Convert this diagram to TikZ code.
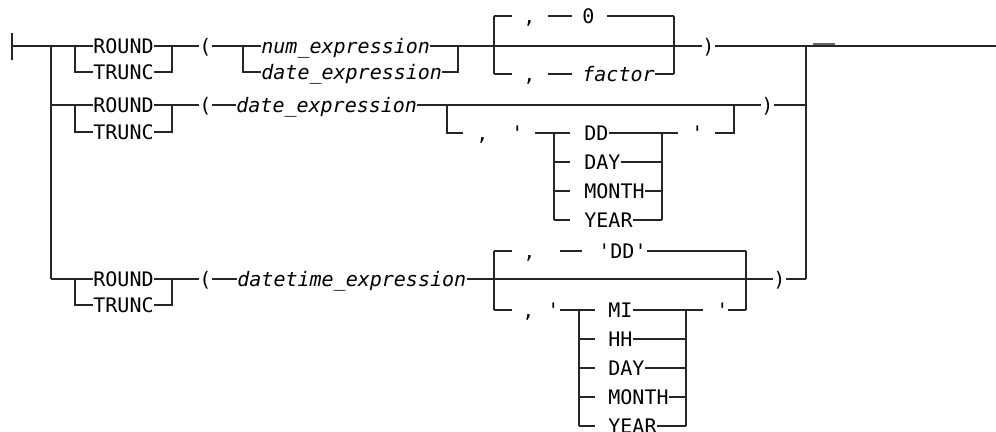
\documentclass[tikz,border=0pt]{standalone}
\usepackage{fontspec}
\setmonofont{DejaVu Sans Mono}
\usepackage{tikz}

\tikzset{
  rail/.style={line width=0.7pt, draw=black!85},
  kw/.style={font=\ttfamily, inner sep=0pt, text height=7.3pt, text depth=0pt, anchor=west},
  var/.style={kw, font=\ttfamily\itshape},
}

\begin{document}
\begin{tikzpicture}[x=0.5pt, y=-0.5pt]
    \useasboundingbox (0,0) rectangle (996,432);

    % ================= RAILS =================
    \coordinate (startT) at (12,33);
    \coordinate (startB) at (12,60);
    \coordinate (start) at (12,46);
    \coordinate (lr1) at (51,46);
    \coordinate (lr2) at (51,105);
    \coordinate (lr3) at (51,279);
    \coordinate (rr1) at (806,46);
    \coordinate (rr2) at (806,105);
    \coordinate (rr3) at (806,279);
    \coordinate (exit) at (996,46);
    \coordinate (mk1) at (813,44);
    \coordinate (mk2) at (835,44);

    \draw[rail] (startT) -- (startB);
    \draw[rail] (lr1) -- (lr3);
    \draw[rail] (rr1) -- (rr3);
    \draw[rail] (start) -- (lr1) (rr1) -- (exit);
    \draw[rail, line width=1.2pt, draw=black!60] (mk1) -- (mk2);

    % ROUND / TRUNC choices
    \foreach \y/\yy [count=\i] in {46/72, 105/132, 279/305} {
      \coordinate (rb\i) at (75,\y);
      \coordinate (rbd\i) at (75,\yy);
      \coordinate (rj\i) at (172,\y);
      \coordinate (rjd\i) at (172,\yy);
      \node[kw] (round\i) at (93,\y) {ROUND};
      \node[kw] (trunc\i) at (93,\yy) {TRUNC};
      \node[kw] (lp\i) at (199,\y) {(};
      \draw[rail] (lr\i) -- (rb\i) -- (round\i.west) (round\i.east) -- (rj\i) -- (lp\i.west);
      \draw[rail] (rb\i) -- (rbd\i) -- (trunc\i.west) (trunc\i.east) -- (rjd\i) -- (rj\i);
    }

    % ================= ROW 1 =================
    \coordinate (eb1) at (243,46);
    \coordinate (ebd1) at (243,72);
    \coordinate (ej1) at (458,46);
    \coordinate (ejd1) at (458,72);
    \node[var] (num1) at (261,46) {num\_expression};
    \node[var] (date1) at (261,72) {date\_expression};
    \draw[rail] (lp1.east) -- (eb1) -- (num1.west) (num1.east) -- (ej1);
    \draw[rail] (eb1) -- (ebd1) -- (date1.west) (date1.east) -- (ejd1) -- (ej1);

    \coordinate (ob1) at (494,46);
    \coordinate (obu1) at (494,16);
    \coordinate (obd1) at (494,74);
    \coordinate (oj1) at (674,46);
    \coordinate (oju1) at (674,16);
    \coordinate (ojd1) at (674,74);
    \coordinate (dz1) at (512,16);
    \coordinate (dz2) at (548,16);
    \coordinate (dz3) at (572,16);
    \coordinate (dz4) at (607,16);
    \coordinate (df1) at (512,74);
    \coordinate (df2) at (548,74);
    \coordinate (df3) at (572,74);
    \node[kw] (cm1) at (523,16) {,};
    \node[kw] (zero) at (582,16) {0};
    \node[kw] (cm2) at (523,74) {,};
    \node[var] (factor) at (582,74) {factor};
    \node[kw] (rp1) at (702,46) {)};
    \draw[rail] (obu1) -- (obd1) (oju1) -- (ojd1);
    \draw[rail] (obu1) -- (dz1) (dz2) -- (dz3) (dz4) -- (oju1);
    \draw[rail] (obd1) -- (df1) (df2) -- (df3) (factor.east) -- (ojd1);
    \draw[rail] (ej1) -- (oj1) -- (rp1.west) (rp1.east) -- (rr1);

    % ================= ROW 2 =================
    \coordinate (ob2) at (447,105);
    \coordinate (obd2) at (447,133);
    \coordinate (oj2) at (734,105);
    \coordinate (ojd2) at (734,133);
    \coordinate (da1) at (463,133);
    \coordinate (da2) at (535,133);
    \coordinate (da3) at (678,133);
    \coordinate (da4) at (715,133);
    \node[var] (date2) at (236,105) {date\_expression};
    \node[kw] (cm3) at (476,133) {,};
    \node[kw] (qa) at (511,133) {\textquotesingle};
    \node[kw] (qb) at (691,133) {\textquotesingle};
    \node[kw] (rp2) at (761,105) {)};
    \draw[rail] (lp2.east) -- (date2.west) (date2.east) -- (ob2) -- (oj2) -- (rp2.west) (rp2.east) -- (rr2);

    \foreach \w [count=\i] in {DD,DAY,MONTH,YEAR} {
      \coordinate (ia\i) at (554,{104+29*\i});
      \coordinate (ta\i) at (570,{104+29*\i});
      \coordinate (sa\i) at (662,{104+29*\i});
      \node[kw] (wa\i) at (584,{104+29*\i}) {\w};
      \draw[rail] (ia\i) -- (ta\i) (wa\i.east) -- (sa\i);
    }
    \draw[rail] (ob2) -- (obd2) -- (da1) (da2) -- (ia1) (ia1) -- (ia4) (sa1) -- (sa4);
    \draw[rail] (sa1) -- (da3) (da4) -- (ojd2) -- (oj2);

    % ================= ROW 3 =================
    \coordinate (ob3) at (494,279);
    \coordinate (obu3) at (494,251);
    \coordinate (obd3) at (494,310);
    \coordinate (oj3) at (746,279);
    \coordinate (oju3) at (746,251);
    \coordinate (ojd3) at (746,310);
    \coordinate (db1) at (512,251);
    \coordinate (db2) at (560,251);
    \coordinate (db3) at (582,251);
    \coordinate (dc1) at (512,310);
    \coordinate (dc2) at (560,310);
    \coordinate (dc3) at (703,310);
    \coordinate (dc4) at (728,310);
    \node[var] (dt3) at (237,279) {datetime\_expression};
    \node[kw] (cm4) at (523,251) {,};
    \node[kw] (ddq) at (598,251) {\textquotesingle DD\textquotesingle};
    \node[kw] (cm5) at (522,310) {,};
    \node[kw] (qc) at (547,310) {\textquotesingle};
    \node[kw] (qd) at (716,310) {\textquotesingle};
    \node[kw] (rp3) at (773,279) {)};
    \draw[rail] (lp3.east) -- (dt3.west) (dt3.east) -- (ob3) -- (oj3) -- (rp3.west) (rp3.east) -- (rr3);
    \draw[rail] (obu3) -- (obd3) (oju3) -- (ojd3);
    \draw[rail] (obu3) -- (db1) (db2) -- (db3) (ddq.east) -- (oju3);

    \foreach \w [count=\i] in {MI,HH,DAY,MONTH,YEAR} {
      \coordinate (ib\i) at (579,{281+29*\i});
      \coordinate (tb\i) at (595,{281+29*\i});
      \coordinate (sb\i) at (686,{281+29*\i});
      \node[kw] (wb\i) at (608,{281+29*\i}) {\w};
      \draw[rail] (ib\i) -- (tb\i) (wb\i.east) -- (sb\i);
    }
    \draw[rail] (obd3) -- (dc1) (dc2) -- (ib1) (ib1) -- (ib5) (sb1) -- (sb5);
    \draw[rail] (sb1) -- (dc3) (dc4) -- (ojd3);
\end{tikzpicture}
\end{document}
